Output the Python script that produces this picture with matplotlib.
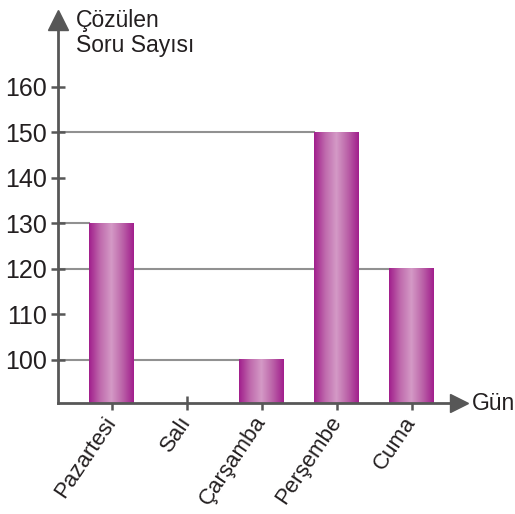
import numpy as np
import matplotlib.pyplot as plt
from matplotlib.colors import LinearSegmentedColormap

plt.rcParams['font.family'] = ['Liberation Sans', 'DejaVu Sans']

# data
days = ['Pazartesi', 'Salı', 'Çarşamba', 'Perşembe', 'Cuma']
solved = [130, 90, 100, 150, 120]
y_ticks = [100, 110, 120, 130, 140, 150, 160]

axis_col = '#575757'
grid_col = '#919191'
text_col = '#231f20'
bar_cmap = LinearSegmentedColormap.from_list(
    'bar', ['#a11e8c', '#bf6aad', '#d49ac6', '#bb62a8', '#a11e8c'])

fig = plt.figure(figsize=(5.15, 5.14), dpi=100)
ax = fig.add_axes([58 / 515, 111 / 514, 401 / 515, 383 / 514])

x = np.arange(len(days))
xmin, xmax = -0.72, 4.63
ymin, ymax = 90.5, 174.7
width = 0.6

# guide lines from the y axis to each bar
for xi, v in zip(x, solved):
    if v > ymin:
        ax.plot([xmin, xi - width / 2], [v, v], color=grid_col, lw=1.5, zorder=1)

# gradient bars
grad = np.linspace(0, 1, 256).reshape(1, -1)
for xi, v in zip(x, solved):
    if v > ymin:
        ax.imshow(grad, cmap=bar_cmap, aspect='auto', zorder=2,
                  extent=(xi - width / 2, xi + width / 2, ymin, v))

ax.set_xlim(xmin, xmax)
ax.set_ylim(ymin, ymax)

for s in ['top', 'right']:
    ax.spines[s].set_visible(False)
for s in ['left', 'bottom']:
    ax.spines[s].set_color(axis_col)
    ax.spines[s].set_linewidth(2)
    ax.spines[s].set_zorder(3)

# arrow heads
ax.plot(1, 0, '>', ms=13, color=axis_col, transform=ax.transAxes, clip_on=False)
ax.plot(0, 1, '^', ms=14, color=axis_col, transform=ax.transAxes, clip_on=False)

ax.set_yticks(y_ticks)
ax.set_xticks(x)
ax.set_xticklabels(days, rotation=56, ha='right', va='center',
                   rotation_mode='anchor')
ax.tick_params(axis='both', direction='inout', length=10, width=1.8,
               color=axis_col, labelcolor=text_col)
ax.tick_params(axis='y', pad=3, labelsize=18)
ax.tick_params(axis='x', pad=6, labelsize=16)

fig.text(76 / 515, 1 - 9 / 514, 'Çözülen\nSoru Sayısı', fontsize=16.5,
         color=text_col, ha='left', va='top', linespacing=1.1)
fig.text(472 / 515, 110 / 514, 'Gün', fontsize=16.5, color=text_col,
         ha='left', va='center')

fig.savefig('out.png', dpi=100)
